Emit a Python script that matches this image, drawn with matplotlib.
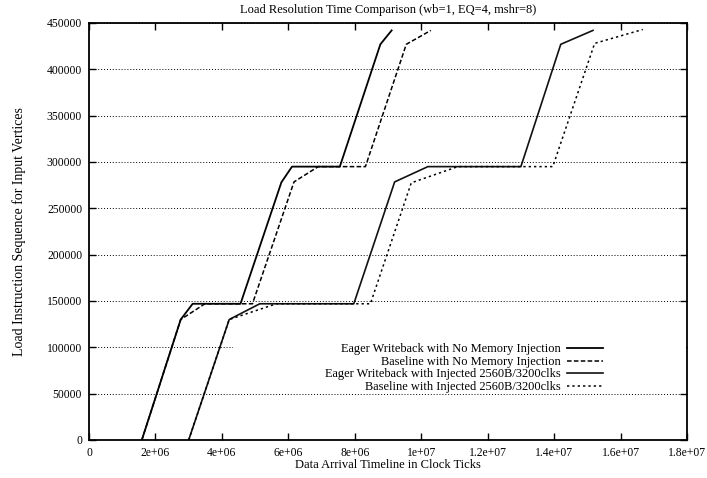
import matplotlib
matplotlib.use('Agg')
import matplotlib.pyplot as plt
from matplotlib.ticker import FuncFormatter, MultipleLocator
from matplotlib.patches import Rectangle

plt.rcParams['font.family'] = ['Liberation Serif', 'DejaVu Serif']
plt.rcParams['font.size'] = 9

# 各条曲线的拐点 (时钟周期, 指令序号)
eager_x = [1.59e6, 2.76e6, 3.12e6, 4.56e6, 5.79e6, 6.11e6, 7.55e6, 8.77e6, 9.11e6]
eager_y = [0, 130000, 147000, 147000, 278000, 295000, 295000, 427000, 442000]

base_x = [1.59e6, 2.76e6, 3.49e6, 4.92e6, 6.17e6, 6.90e6, 8.32e6, 9.55e6, 10.29e6]
base_y = [0, 130000, 147000, 147000, 278500, 295000, 295000, 427000, 442000]

eager_inj_x = [3.0e6, 4.22e6, 5.14e6, 7.97e6, 9.20e6, 10.2e6, 13.0e6, 14.2e6, 15.17e6]
eager_inj_y = [0, 130000, 147000, 147000, 278500, 295000, 295000, 427000, 442000]

base_inj_x = [3.0e6, 4.22e6, 5.64e6, 8.47e6, 9.70e6, 11.1e6, 13.96e6, 15.22e6, 16.67e6]
base_inj_y = [0, 130000, 147000, 147000, 277500, 295000, 295000, 428000, 443000]

labels = ['Eager Writeback with No Memory Injection',
          'Baseline with No Memory Injection',
          'Eager Writeback with Injected 2560B/3200clks',
          'Baseline with Injected 2560B/3200clks']

fig = plt.figure(figsize=(7.07, 4.78), dpi=100)
ax = fig.add_axes([0.1259, 0.0795, 0.8458, 0.8724])

ax.plot(eager_x, eager_y, color='black', lw=1.3, label=labels[0])
ax.plot(base_x, base_y, color='black', lw=1.1, linestyle=(0, (3, 1.5)), label=labels[1])
ax.plot(eager_inj_x, eager_inj_y, color='#111111', lw=1.2, label=labels[2])
ax.plot(base_inj_x, base_inj_y, color='black', lw=1.1, linestyle=(0, (1.5, 2)), label=labels[3])

ax.set_xlim(0, 1.8e7)
ax.set_ylim(0, 450000)
ax.xaxis.set_major_locator(MultipleLocator(2e6))
ax.yaxis.set_major_locator(MultipleLocator(50000))
fmt = FuncFormatter(lambda v, pos: '%g' % v)
ax.xaxis.set_major_formatter(fmt)
ax.yaxis.set_major_formatter(fmt)
ax.tick_params(direction='in', top=True, right=True, length=5, width=1, pad=5,
               labelsize=8.4)

ax.set_axisbelow(True)
ax.yaxis.grid(True, color='black', linestyle=(0, (1, 2)), lw=0.7)
for s in ax.spines.values():
    s.set_linewidth(1.3)

# 图例区域的白底
ax.add_patch(Rectangle((0.241, 0.1175), 0.757, 0.122, transform=ax.transAxes,
                       facecolor='white', edgecolor='none', zorder=1))

ax.legend(loc='lower right', bbox_to_anchor=(0.8595, 0.113), frameon=False,
          markerfirst=False, handlelength=2.9, handletextpad=0.5,
          labelspacing=0.04, borderpad=0, borderaxespad=0, fontsize=8.9)

ax.set_title('Load Resolution Time Comparison (wb=1, EQ=4, mshr=8)', pad=7, fontsize=9)
ax.set_xlabel('Data Arrival Timeline in Clock Ticks', labelpad=0)
ax.set_ylabel('Load Instruction Sequence for Input Vertices', labelpad=15, fontsize=10)

fig.savefig('out.png', dpi=100)
